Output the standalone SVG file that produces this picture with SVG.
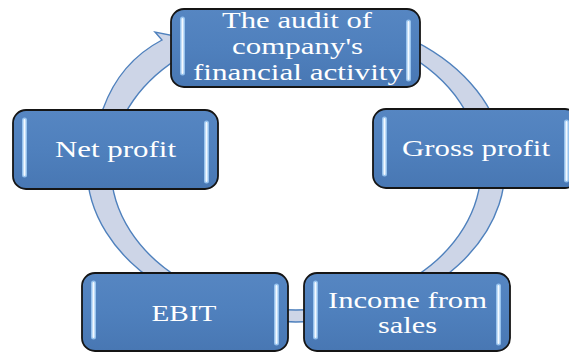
<svg xmlns="http://www.w3.org/2000/svg" width="569" height="354" viewBox="0 0 569 354">
<defs>
<linearGradient id="boxFill" x1="0" y1="0" x2="0" y2="1">
<stop offset="0" stop-color="#5686c2"/>
<stop offset="0.5" stop-color="#4f80bd"/>
<stop offset="1" stop-color="#4877b3"/>
</linearGradient>
<style>
.box{fill:url(#boxFill);stroke:#151515;stroke-width:1.8}
.glow{stroke:#9fcaf3;stroke-width:5;stroke-linecap:round;fill:none;opacity:0.9}
.core{stroke:#f4faff;stroke-width:2;stroke-linecap:round;fill:none}
.lbl{font-family:"Liberation Serif","Times New Roman",serif;font-size:23px;fill:#ffffff;text-anchor:middle}
.ring{fill:#cdd5e7;stroke:#4f81bd;stroke-width:1.4;stroke-linejoin:miter}
</style>
</defs>
<rect width="569" height="354" fill="#ffffff"/>
<g id="connectors">
<path class="ring" d="M330,16 A209,154 0 1 1 103,108.9 Q120,62 162,40 L155,32 L205,42 L185,80 L185,54.4 A185,142 0 1 0 330,28.4 Z"/>
</g>
<g id="node-audit">
<rect class="box" x="171" y="9" width="249" height="78" rx="13"/>
<line class="glow" x1="182.5" y1="19" x2="182.5" y2="73"/><line class="core" x1="182.5" y1="19" x2="182.5" y2="73"/>
<line class="glow" x1="408.5" y1="22" x2="408.5" y2="79"/><line class="core" x1="408.5" y1="22" x2="408.5" y2="79"/>
<text class="lbl" x="297" y="28" textLength="150" lengthAdjust="spacingAndGlyphs">The audit of</text>
<text class="lbl" x="297.5" y="54" textLength="131" lengthAdjust="spacingAndGlyphs">company's</text>
<text class="lbl" x="298" y="80" textLength="210" lengthAdjust="spacingAndGlyphs">financial activity</text>
</g>
<g id="node-net-profit">
<rect class="box" x="13" y="110" width="205" height="79" rx="13"/>
<line class="glow" x1="24.5" y1="120" x2="24.5" y2="175"/><line class="core" x1="24.5" y1="120" x2="24.5" y2="175"/>
<line class="glow" x1="206.5" y1="123" x2="206.5" y2="181"/><line class="core" x1="206.5" y1="123" x2="206.5" y2="181"/>
<text class="lbl" x="115.5" y="157" textLength="121" lengthAdjust="spacingAndGlyphs">Net profit</text>
</g>
<g id="node-gross-profit">
<rect class="box" x="373" y="109" width="205" height="79" rx="13"/>
<line class="glow" x1="384.5" y1="119" x2="384.5" y2="174"/><line class="core" x1="384.5" y1="119" x2="384.5" y2="174"/>
<line class="glow" x1="566.5" y1="122" x2="566.5" y2="180"/><line class="core" x1="566.5" y1="122" x2="566.5" y2="180"/>
<text class="lbl" x="476" y="156" textLength="148" lengthAdjust="spacingAndGlyphs">Gross profit</text>
</g>
<g id="node-ebit">
<rect class="box" x="82" y="273" width="206" height="78" rx="13"/>
<line class="glow" x1="93.5" y1="283" x2="93.5" y2="337"/><line class="core" x1="93.5" y1="283" x2="93.5" y2="337"/>
<line class="glow" x1="276.5" y1="286" x2="276.5" y2="343"/><line class="core" x1="276.5" y1="286" x2="276.5" y2="343"/>
<text class="lbl" x="184" y="321" textLength="65" lengthAdjust="spacingAndGlyphs">EBIT</text>
</g>
<g id="node-income">
<rect class="box" x="304" y="273" width="206" height="78" rx="13"/>
<line class="glow" x1="315.5" y1="283" x2="315.5" y2="337"/><line class="core" x1="315.5" y1="283" x2="315.5" y2="337"/>
<line class="glow" x1="498.5" y1="286" x2="498.5" y2="343"/><line class="core" x1="498.5" y1="286" x2="498.5" y2="343"/>
<text class="lbl" x="407.5" y="308" textLength="159" lengthAdjust="spacingAndGlyphs">Income from</text>
<text class="lbl" x="407.5" y="333" textLength="59" lengthAdjust="spacingAndGlyphs">sales</text>
</g>
</svg>
